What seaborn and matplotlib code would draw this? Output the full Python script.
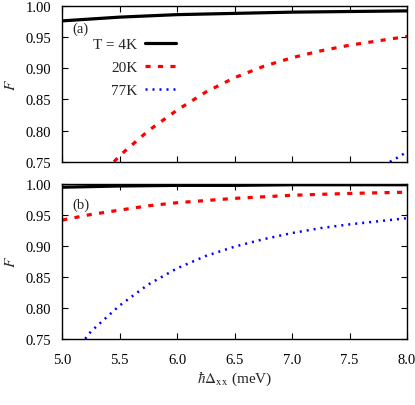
import numpy as np
import pandas as pd
import matplotlib
matplotlib.use("Agg")
import matplotlib.pyplot as plt
import seaborn as sns

# values (x = hbar*Delta_xx in meV)
x_4k_a = [5.0, 5.5, 6.0, 6.5, 7.0, 7.5, 8.0]
f_4k_a = [0.976, 0.982, 0.986, 0.988, 0.990, 0.991, 0.992]
x_20k_a = [5.45, 5.5, 5.75, 6.0, 6.25, 6.5, 6.75, 7.0, 7.25, 7.5, 7.75, 8.0]
f_20k_a = [0.750, 0.760, 0.800, 0.833, 0.862, 0.885, 0.903, 0.917, 0.928, 0.937, 0.944, 0.951]
x_77k_a = [7.85, 7.9, 8.0]
f_77k_a = [0.750, 0.755, 0.766]

x_4k_b = [5.0, 5.5, 6.0, 6.5, 7.0, 7.5, 8.0]
f_4k_b = [0.995, 0.997, 0.998, 0.998, 0.999, 0.999, 0.999]
x_20k_b = [5.0, 5.25, 5.5, 5.75, 6.0, 6.5, 7.0, 7.5, 8.0]
f_20k_b = [0.942, 0.951, 0.958, 0.965, 0.970, 0.977, 0.982, 0.985, 0.987]
x_77k_b = [5.2, 5.25, 5.5, 5.75, 6.0, 6.25, 6.5, 6.75, 7.0, 7.25, 7.5, 7.75, 8.0]
f_77k_b = [0.750, 0.762, 0.804, 0.838, 0.864, 0.884, 0.899, 0.911, 0.921, 0.929, 0.935, 0.940, 0.945]

labels = ["T = 4K", "20K", "77K"]
colors = ["black", "red", "blue"]

sns.set_theme(style="ticks")
plt.rcParams["font.family"] = ["Liberation Serif", "DejaVu Serif"]
plt.rcParams["mathtext.fontset"] = "stix"
plt.rcParams["font.size"] = 10.5

fig = plt.figure(figsize=(4.15, 4.06), dpi=100)
ax1 = fig.add_axes([0.150, 0.599, 0.831, 0.384])
ax2 = fig.add_axes([0.150, 0.163, 0.831, 0.381])


def draw(ax, xs, fs):
    styles = [dict(linestyle="-", linewidth=2.3),
              dict(linestyle=(0, (1.6, 2.3)), linewidth=2.3),
              dict(linestyle=(0, (0.8, 2.0)), linewidth=1.8)]
    for x, f, lab, c, st in zip(xs, fs, labels, colors, styles):
        df = pd.DataFrame({"x": x, "F": f})
        sns.lineplot(data=df, x="x", y="F", ax=ax, color=c, label=lab, **st)


draw(ax1, [x_4k_a, x_20k_a, x_77k_a], [f_4k_a, f_20k_a, f_77k_a])
draw(ax2, [x_4k_b, x_20k_b, x_77k_b], [f_4k_b, f_20k_b, f_77k_b])

for ax in (ax1, ax2):
    ax.set_xlim(5.0, 8.0)
    ax.set_ylim(0.75, 1.00)
    ax.set_xticks(np.arange(5.0, 8.01, 0.5))
    ax.set_yticks(np.arange(0.75, 1.001, 0.05))
    ax.yaxis.set_major_formatter(matplotlib.ticker.FormatStrFormatter("%.2f"))
    ax.xaxis.set_major_formatter(matplotlib.ticker.FormatStrFormatter("%.1f"))
    ax.tick_params(direction="in", top=True, right=True, length=4, width=0.8,
                   labelsize=10.5, colors="black")
    ax.tick_params(axis="y", pad=8)
    ax.tick_params(axis="x", pad=10)
    for s in ax.spines.values():
        s.set_visible(True)
        s.set_linewidth(1.0)
        s.set_color("black")
    ax.set_ylabel("$F$", fontsize=11, labelpad=5)

ax1.set_xlabel("")
ax1.tick_params(labelbottom=False)
ax2.set_xlabel(r"$\hbar\Delta_{\rm xx}$ (meV)", fontsize=11, labelpad=2)

leg = ax1.legend(loc="upper left", bbox_to_anchor=(0.05, 0.885), frameon=False,
                 markerfirst=False, handlelength=2.0, handletextpad=0.5,
                 labelspacing=0.6, fontsize=11)
for t in leg.get_texts():
    t.set_ha("right")
ax2.get_legend().remove()

ax1.text(5.09, 0.958, "(a)", fontsize=10.5)
ax2.text(5.09, 0.962, "(b)", fontsize=10.5)

fig.savefig("out.png", dpi=100)
